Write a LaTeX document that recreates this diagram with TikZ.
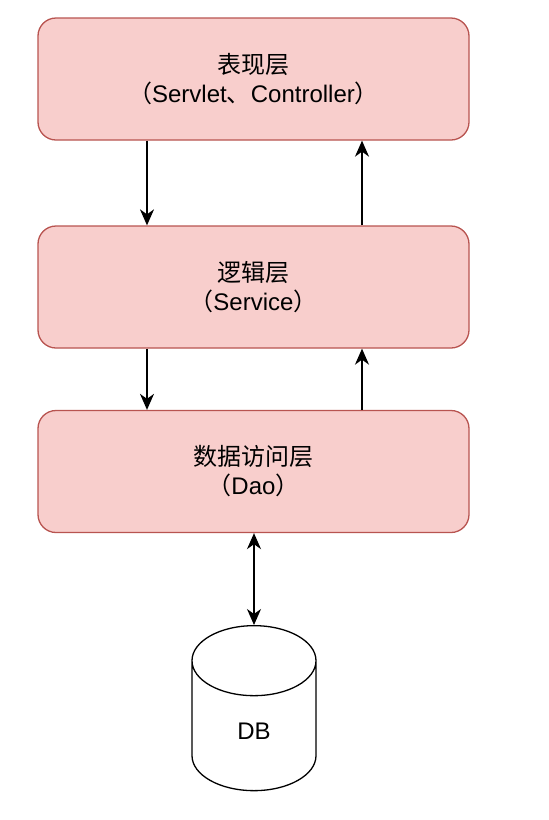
\documentclass[tikz,border=0pt]{standalone}
\usepackage{fontspec}
\setmainfont{Liberation Sans}
\newfontfamily\cjk{Noto Sans CJK SC}
\usetikzlibrary{arrows.meta,shapes.geometric}
\definecolor{layerFill}{HTML}{F8CECC}
\definecolor{layerLine}{HTML}{B85450}
\tikzset{
	layerA/.style={
		draw=layerLine, fill=layerFill, line width=1.3pt, rounded corners=18pt,
		minimum width=431pt, minimum height=122pt, align=center,
		font={\fontsize{24}{29}\selectfont}
	},
	dbA/.style={
		cylinder, shape border rotate=90, draw, line width=1.3pt, aspect=1.75,
		minimum width=124pt, minimum height=165pt,
		font={\fontsize{24}{28}\selectfont}
	},
	>={Stealth[length=16pt,width=14pt,inset=5pt]},
}
\def\zh#1{{\cjk #1}}

\begin{document}
\begin{tikzpicture}[x=1pt, y=-1pt]
\useasboundingbox (0,0) rectangle (549,820);
\node [layerA] (view) at (253.5,79) {\zh{表现层}\\\zh{（}Servlet\zh{、}Controller\zh{）}};
\node [layerA] (service) at (253.5,287) {\zh{逻辑层}\\\zh{（}Service\zh{）}};
\node [layerA] (dao) at (253.5,471.5) {\zh{数据访问层}\\\zh{（}Dao\zh{）}};
\node [dbA, anchor=north] (db) at (254,625) {DB};
\draw [->, line width=1.5pt] (view.south -| 147,0) -- (service.north -| 147,0);
\draw [->, line width=1.5pt] (service.north -| 362,0) -- (view.south -| 362,0);
\draw [->, line width=1.5pt] (service.south -| 147,0) -- (dao.north -| 147,0);
\draw [->, line width=1.5pt] (dao.north -| 362,0) -- (service.south -| 362,0);
\draw [<->, line width=1.5pt] (dao.south -| db.top) -- (db.top);
\end{tikzpicture}
\end{document}
